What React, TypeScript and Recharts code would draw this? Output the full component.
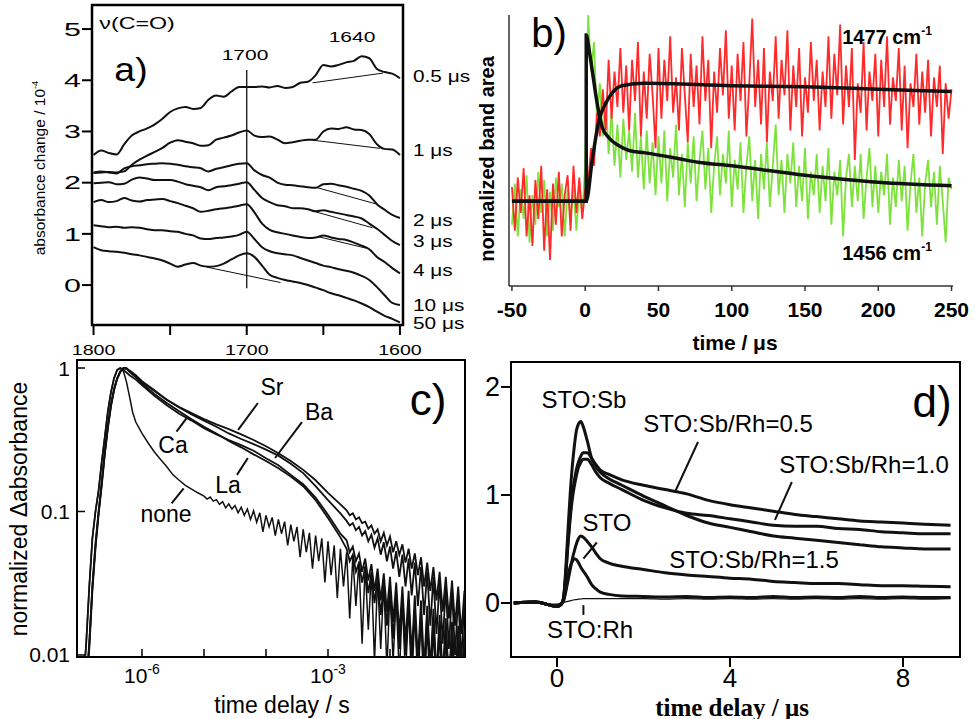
import React from 'react';
import { LineChart, Line, XAxis, YAxis, ReferenceLine, ReferenceArea } from 'recharts';

const FONT = '"Liberation Sans", Arial, Helvetica, sans-serif';
const SERIF = '"Liberation Serif", "Times New Roman", serif';
const INK = '#111';

// ---------- a) IR spectra, nu(C=O) region ----------
const wavenumbers = [
  1800, 1795, 1790, 1785, 1780, 1775, 1770, 1765, 1760, 1755, 1750, 1745, 1740, 1735,
  1730, 1725, 1720, 1715, 1710, 1705, 1700, 1695, 1690, 1685, 1680, 1675, 1670, 1665,
  1660, 1655, 1650, 1645, 1640, 1635, 1630, 1625, 1620, 1615, 1610, 1605, 1600,
];
const spec05us = [2.54, 2.63, 2.58, 2.55, 2.75, 2.92, 3.0, 3.06, 3.14, 3.25, 3.38, 3.45, 3.48, 3.44, 3.46, 3.62, 3.7, 3.68, 3.78, 3.87, 3.87, 3.87, 3.88, 3.86, 3.89, 3.85, 3.87, 3.95, 3.97, 4.1, 4.3, 4.27, 4.3, 4.35, 4.38, 4.47, 4.43, 4.22, 4.16, 4.13, 4.04];
const spec1us = [2.19, 2.2, 2.21, 2.2, 2.22, 2.35, 2.45, 2.53, 2.6, 2.68, 2.78, 2.83, 2.8, 2.77, 2.72, 2.73, 2.84, 2.88, 2.92, 2.98, 3.02, 2.92, 2.89, 2.9, 2.84, 2.77, 2.79, 2.82, 2.84, 2.84, 3.0, 3.06, 3.05, 3.08, 3.04, 3.03, 2.95, 2.75, 2.66, 2.65, 2.54];
const spec2us = [2.2, 2.22, 2.2, 2.18, 2.28, 2.32, 2.34, 2.36, 2.37, 2.38, 2.37, 2.35, 2.32, 2.3, 2.28, 2.22, 2.27, 2.3, 2.34, 2.37, 2.38, 2.24, 2.15, 2.1, 2.0, 1.96, 1.95, 1.93, 1.91, 1.9, 1.97, 1.98, 1.95, 1.92, 1.88, 1.84, 1.75, 1.58, 1.47, 1.37, 1.31];
const spec3us = [1.99, 2.0, 2.01, 1.97, 1.98, 2.06, 2.1, 2.08, 2.05, 2.05, 2.05, 2.02, 1.97, 1.94, 1.91, 1.85, 1.91, 1.93, 1.95, 1.98, 2.01, 1.86, 1.7, 1.62, 1.56, 1.54, 1.5, 1.5, 1.48, 1.44, 1.46, 1.43, 1.4, 1.37, 1.34, 1.3, 1.2, 1.1, 0.98, 0.86, 0.78];
const spec4us = [1.62, 1.66, 1.62, 1.64, 1.7, 1.65, 1.63, 1.66, 1.67, 1.68, 1.64, 1.6, 1.55, 1.5, 1.43, 1.45, 1.48, 1.5, 1.52, 1.55, 1.58, 1.42, 1.2, 1.08, 1.03, 1.0, 0.97, 0.94, 0.92, 0.93, 0.97, 0.93, 0.9, 0.88, 0.83, 0.77, 0.7, 0.55, 0.45, 0.33, 0.23];
const spec10us = [1.17, 1.15, 1.13, 1.14, 1.12, 1.13, 1.12, 1.09, 1.07, 1.07, 1.05, 1.04, 1.0, 0.97, 0.91, 0.9, 0.92, 0.93, 0.95, 0.98, 1.04, 0.9, 0.74, 0.66, 0.62, 0.6, 0.58, 0.53, 0.48, 0.43, 0.38, 0.35, 0.31, 0.28, 0.24, 0.18, 0.1, -0.04, -0.2, -0.35, -0.39];
const spec50us = [0.74, 0.68, 0.66, 0.65, 0.63, 0.6, 0.58, 0.55, 0.52, 0.48, 0.42, 0.36, 0.4, 0.43, 0.38, 0.36, 0.37, 0.42, 0.5, 0.58, 0.62, 0.55, 0.38, 0.2, 0.14, 0.1, 0.07, 0.04, 0.0, -0.05, -0.1, -0.16, -0.2, -0.25, -0.3, -0.36, -0.43, -0.52, -0.6, -0.66, -0.73];
const spectra = [spec05us, spec1us, spec2us, spec3us, spec4us, spec10us, spec50us];
// straight baselines under the bands: [wavenumber, value] end points
const bandBaselines = [
  [[1657, 3.95], [1611, 4.14]],
  [[1657, 2.83], [1613, 2.67]],
  [[1655, 1.91], [1615, 1.58]],
  [[1655, 1.43], [1618, 1.12]],
  [[1654, 0.95], [1622, 0.72]],
  [[1726, 0.35], [1678, 0.05]],
];
const delayLabels = ['0.5 μs', '1 μs', '2 μs', '3 μs', '4 μs', '10 μs', '50 μs'];
const delayLabelY = [77, 151, 221, 242, 271, 306, 324];

// ---------- b) band area kinetics ----------
const timeB = [
  -50, -48, -46, -44, -42, -40, -38, -36, -34, -32, -30, -28, -26, -24, -22, -20, -18, -16, -14, -12, -10, -8, -6, -4, -2,
  0, 2, 4, 6, 8, 10, 12, 14, 16, 18, 20, 22, 24, 26, 28, 30, 32, 34, 36, 38, 40, 42, 44, 46, 48,
  50, 52, 54, 56, 58, 60, 62, 64, 66, 68, 70, 72, 74, 76, 78, 80, 82, 84, 86, 88, 90, 92, 94, 96, 98,
  100, 102, 104, 106, 108, 110, 112, 114, 116, 118, 120, 122, 124, 126, 128, 130, 132, 134, 136, 138, 140, 142, 144, 146, 148,
  150, 152, 154, 156, 158, 160, 162, 164, 166, 168, 170, 172, 174, 176, 178, 180, 182, 184, 186, 188, 190, 192, 194, 196, 198,
  200, 202, 204, 206, 208, 210, 212, 214, 216, 218, 220, 222, 224, 226, 228, 230, 232, 234, 236, 238, 240, 242, 244, 246, 248,
  250,
];
const band1477 = [
  0.12, -0.25, 0.2, -0.1, 0.28, -0.3, 0.05, -0.38, 0.18, -0.15, 0.3, -0.42, 0.1, -0.5, 0.15, -0.2, 0.25, -0.3, 0.05, 0.22, -0.25, 0.3, -0.1, 0.2, -0.15,
  0.1, 0.15, 0.45, 0.3, 0.75, 0.55, 0.95, 0.6, 1.2, 0.7, 1.1, 0.8, 1.3, 0.75, 1.15, 0.6, 1.2, 0.85, 1.35, 0.55, 1.1, 0.7, 1.25, 0.9, 0.45, 1.3,
  0.7, 1.2, 0.85, 1.4, 0.75, 1.05, 0.6, 1.3, 0.9, 0.5, 1.25, 0.8, 1.15, 0.65, 1.4, 0.85, 1.2, 0.45, 1.1, 0.75,
  1.3, 0.9, 1.45, 0.7, 1.15, 0.6, 1.25, 0.85, 1.35, 0.55, 1.0, 1.55, 0.8, 1.2, 0.65, 1.3, 0.5, 1.1, 0.85, 1.4,
  0.7, 1.2, 0.9, 1.45, 0.6, 1.15, 0.8, 1.3, 0.55, 1.05, 0.75, 1.35, 0.85, 1.2, 0.6, 1.1, 0.8, 1.4, 0.7, 1.25,
  0.9, 1.5, 0.65, 1.15, 0.8, 1.3, 0.35, 1.0, 0.75, 1.35, 0.6, 1.1, 0.85, 1.25, 0.55, 1.2, 0.8, 1.4, 0.65, 1.05,
  0.85, 1.3, 0.6, 1.15, 0.45, 1.0, 0.8, 1.25, 0.65, 1.1, 0.75, 1.2, 0.55, 1.05, 0.8, 1.15, 0.4, 1.0, 0.7, 0.95,
];
const band1456 = [
  -0.2, 0.15, -0.3, 0.1, -0.15, 0.22, -0.35, 0.05, -0.2, 0.25, -0.1, 0.18, -0.3, 0.08, -0.25, 0.2, -0.05, 0.15, -0.3, 0.1, -0.15, 0.12, -0.25, 0.1, -0.1,
  0.3, 1.58, 1.1, 1.35, 0.7, 1.0, 0.55, 0.85, 0.4, 0.75, 0.3, 0.65, 0.2, 0.7, 0.35, 0.6, 0.25, 0.75, 0.2, 0.55, 0.1, 0.6, 0.15, 0.5, 0.05, 0.55,
  0.15, 0.6, 0.0, 0.45, 0.2, 0.65, 0.05, 0.4, -0.05, 0.5, 0.15, 0.55, 0.0, 0.35, 0.6, 0.1, 0.45, -0.1, 0.3, 0.55,
  0.05, 0.4, 0.15, 0.6, -0.05, 0.35, 0.1, 0.5, -0.1, 0.3, 0.55, 0.0, 0.35, -0.15, 0.4, 0.1, 0.5, -0.05, 0.3, 0.65,
  0.05, 0.35, -0.1, 0.4, 0.15, 0.5, -0.05, 0.3, 0.0, 0.45, -0.15, 0.25, 0.05, 0.4, -0.1, 0.3, 0.0, 0.45, -0.2, 0.25,
  0.05, 0.35, -0.3, 0.2, 0.4, -0.05, 0.3, 0.0, 0.4, -0.15, 0.2, 0.45, -0.05, 0.3, -0.1, 0.25, 0.05, 0.4, -0.2, 0.2,
  -0.05, 0.35, 0.0, 0.3, -0.25, 0.15, 0.4, -0.1, 0.2, -0.3, 0.15, 0.35, -0.05, 0.25, -0.2, 0.3, 0.0, -0.35, 0.2, 0.1,
];
const fit1477T = [-50, 0.7, 4.8, 9.5, 14, 18.5, 25, 41, 100, 150, 200, 250];
const fit1477 = [0, 0, 0.35, 0.69, 0.83, 0.92, 0.98, 1.0, 0.98, 0.97, 0.95, 0.93];
const fit1456T = [-50, 0.7, 0.71, 2.7, 4.8, 7.5, 11.6, 16, 23, 30, 41, 64, 77, 100, 150, 200, 250];
const fit1456 = [0, 0, 1.41, 1.28, 1.11, 0.88, 0.63, 0.54, 0.47, 0.43, 0.41, 0.36, 0.33, 0.3, 0.22, 0.16, 0.13];

// ---------- c) normalized decays, log-log (time as log10 s) ----------
const logTimeC = [
  -6.95, -6.9, -6.85, -6.8, -6.75, -6.7, -6.65, -6.6, -6.55, -6.5, -6.45, -6.4, -6.35, -6.3, -6.25, -6.2,
  -6.1, -6.0, -5.8, -5.6, -5.4, -5.2, -5.0, -4.8, -4.6, -4.4, -4.2, -4.0, -3.8, -3.6, -3.4, -3.2, -3.0, -2.8,
  -2.7, -2.65, -2.6, -2.55, -2.5, -2.45, -2.4, -2.35, -2.3, -2.25, -2.2, -2.15, -2.1, -2.05, -2.0, -1.95, -1.9, -1.85, -1.8, -1.75,
  -1.7, -1.65, -1.6, -1.55, -1.5, -1.45, -1.4, -1.35, -1.3, -1.25, -1.2, -1.15, -1.1, -1.05, -1.0, -0.95, -0.9, -0.85, -0.8,
];
const decaySr = [
  0.004, 0.006, 0.012, 0.03, 0.06, 0.1, 0.16, 0.26, 0.4, 0.56, 0.72, 0.85, 0.95, 1.0, 0.99, 0.95,
  0.88, 0.8, 0.69, 0.6, 0.535, 0.485, 0.44, 0.405, 0.375, 0.345, 0.315, 0.285, 0.255, 0.225, 0.195, 0.165, 0.135, 0.112,
  0.102, 0.094, 0.097, 0.088, 0.091, 0.083, 0.085, 0.076, 0.08, 0.07, 0.075, 0.062, 0.071, 0.058, 0.067, 0.052, 0.062, 0.05, 0.059, 0.044,
  0.055, 0.04, 0.051, 0.036, 0.048, 0.03, 0.044, 0.028, 0.041, 0.024, 0.038, 0.02, 0.035, 0.018, 0.033, 0.016, 0.03, 0.014, 0.028,
];
const decayBa = [
  0.004, 0.006, 0.011, 0.028, 0.055, 0.095, 0.15, 0.25, 0.38, 0.54, 0.7, 0.84, 0.94, 1.0, 0.99, 0.96,
  0.89, 0.81, 0.7, 0.6, 0.53, 0.475, 0.43, 0.39, 0.35, 0.32, 0.295, 0.27, 0.245, 0.215, 0.185, 0.15, 0.12, 0.097,
  0.086, 0.08, 0.083, 0.074, 0.078, 0.068, 0.073, 0.062, 0.069, 0.056, 0.065, 0.05, 0.061, 0.045, 0.057, 0.04, 0.053, 0.035, 0.05, 0.03,
  0.047, 0.026, 0.044, 0.022, 0.041, 0.019, 0.038, 0.016, 0.035, 0.014, 0.033, 0.012, 0.03, 0.011, 0.028, 0.01, 0.026, 0.009, 0.025,
];
const decayLa = [
  0.004, 0.006, 0.012, 0.03, 0.058, 0.098, 0.155, 0.255, 0.39, 0.55, 0.71, 0.84, 0.94, 0.99, 1.0, 0.94,
  0.86, 0.78, 0.66, 0.57, 0.5, 0.44, 0.39, 0.35, 0.31, 0.28, 0.25, 0.225, 0.2, 0.175, 0.15, 0.12, 0.09, 0.066,
  0.055, 0.045, 0.05, 0.038, 0.044, 0.032, 0.041, 0.027, 0.037, 0.023, 0.034, 0.019, 0.031, 0.016, 0.029, 0.013, 0.027, 0.011, 0.025, 0.01,
  0.023, 0.009, 0.021, 0.008, 0.02, 0.007, 0.019, 0.007, 0.018, 0.006, 0.017, 0.006, 0.016, 0.006, 0.015, 0.005, 0.014, 0.005, 0.013,
];
const decayCa = [
  0.006, 0.012, 0.03, 0.065, 0.1, 0.14, 0.22, 0.33, 0.5, 0.68, 0.85, 0.97, 1.0, 0.97, 0.93, 0.89,
  0.83, 0.76, 0.64, 0.55, 0.48, 0.43, 0.38, 0.345, 0.315, 0.29, 0.265, 0.235, 0.21, 0.18, 0.155, 0.125, 0.095, 0.07,
  0.063, 0.052, 0.057, 0.045, 0.051, 0.038, 0.047, 0.033, 0.043, 0.028, 0.04, 0.024, 0.037, 0.02, 0.035, 0.017, 0.032, 0.014, 0.03, 0.012,
  0.028, 0.01, 0.026, 0.009, 0.024, 0.008, 0.022, 0.008, 0.021, 0.007, 0.019, 0.007, 0.018, 0.006, 0.017, 0.006, 0.016, 0.006, 0.015,
];
const logTimeNone = [
  -6.95, -6.9, -6.85, -6.8, -6.75, -6.7, -6.65, -6.6, -6.55, -6.5, -6.45, -6.4, -6.35, -6.3, -6.25, -6.2, -6.15, -6.1,
  -6.0, -5.9, -5.8, -5.7, -5.6, -5.5, -5.4, -5.3, -5.2, -5.1,
  -5.0, -4.95, -4.9, -4.85, -4.8, -4.75, -4.7, -4.65, -4.6, -4.55, -4.5, -4.45, -4.4, -4.35, -4.3, -4.25, -4.2, -4.15, -4.1, -4.05,
  -4.0, -3.95, -3.9, -3.85, -3.8, -3.75, -3.7, -3.65, -3.6, -3.55, -3.5, -3.45, -3.4, -3.35, -3.3, -3.25, -3.2, -3.15, -3.1, -3.05,
  -3.0, -2.95, -2.9, -2.85, -2.8, -2.75, -2.7, -2.65, -2.6, -2.55, -2.5, -2.45, -2.4, -2.35, -2.3, -2.25, -2.2, -2.15, -2.1, -2.05,
  -2.0, -1.95, -1.9, -1.85, -1.8, -1.75, -1.7, -1.65, -1.6, -1.55, -1.5, -1.45, -1.4, -1.35, -1.3, -1.25, -1.2, -1.15, -1.1, -1.05,
  -1.0, -0.95, -0.9, -0.85, -0.8,
];
const decayNone = [
  0.006, 0.012, 0.03, 0.065, 0.1, 0.14, 0.22, 0.33, 0.5, 0.68, 0.85, 0.97, 1.0, 0.95, 0.8, 0.63, 0.49, 0.42,
  0.35, 0.3, 0.26, 0.23, 0.205, 0.18, 0.165, 0.152, 0.143, 0.135,
  0.128, 0.122, 0.126, 0.118, 0.121, 0.112, 0.117, 0.106, 0.113, 0.104, 0.11, 0.098, 0.107, 0.094, 0.104, 0.088, 0.101, 0.084, 0.098, 0.072,
  0.094, 0.078, 0.091, 0.068, 0.088, 0.07, 0.085, 0.058, 0.081, 0.062, 0.078, 0.048, 0.075, 0.052, 0.071, 0.04, 0.068, 0.045, 0.065, 0.032,
  0.062, 0.036, 0.058, 0.025, 0.055, 0.03, 0.052, 0.018, 0.048, 0.022, 0.045, 0.012, 0.042, 0.015, 0.038, 0.009, 0.035, 0.011, 0.032, 0.008,
  0.029, 0.009, 0.026, 0.007, 0.024, 0.007, 0.022, 0.006, 0.02, 0.006, 0.018, 0.005, 0.016, 0.005, 0.015, 0.005, 0.014, 0.005, 0.013, 0.005,
  0.012, 0.005, 0.011, 0.005, 0.01,
];

// ---------- d) transient absorption, time delay in μs ----------
const timeD = [-1.0, -0.5, 0, 0.1, 0.15, 0.2, 0.25, 0.3, 0.35, 0.4, 0.45, 0.5, 0.55, 0.6, 0.7, 0.8, 0.9, 1.0, 1.2, 1.5, 2, 2.5, 3, 3.5, 4, 4.5, 5, 5.5, 6, 6.5, 7, 7.5, 8, 8.5, 9.1];
const stoSb = [0, 0.01, -0.03, -0.01, 0.05, 0.3, 0.65, 0.98, 1.25, 1.45, 1.6, 1.66, 1.68, 1.64, 1.5, 1.34, 1.26, 1.21, 1.15, 1.09, 0.99, 0.9, 0.81, 0.74, 0.7, 0.66, 0.62, 0.6, 0.58, 0.56, 0.54, 0.52, 0.51, 0.5, 0.5];
const stoSbRh05 = [0, 0.01, -0.03, -0.01, 0.04, 0.25, 0.55, 0.8, 1.0, 1.13, 1.24, 1.31, 1.36, 1.39, 1.39, 1.34, 1.28, 1.23, 1.19, 1.14, 1.09, 1.05, 1.01, 0.95, 0.91, 0.88, 0.85, 0.82, 0.8, 0.78, 0.76, 0.75, 0.74, 0.73, 0.72];
const stoSbRh10 = [0, 0.01, -0.03, -0.01, 0.04, 0.24, 0.52, 0.76, 0.95, 1.08, 1.18, 1.26, 1.3, 1.33, 1.33, 1.28, 1.21, 1.16, 1.11, 1.05, 0.95, 0.88, 0.83, 0.81, 0.78, 0.75, 0.72, 0.71, 0.71, 0.69, 0.68, 0.66, 0.65, 0.64, 0.64];
const sto = [0, 0.01, -0.03, -0.01, 0.02, 0.1, 0.2, 0.3, 0.4, 0.48, 0.55, 0.6, 0.62, 0.61, 0.57, 0.52, 0.46, 0.41, 0.37, 0.34, 0.31, 0.28, 0.26, 0.245, 0.23, 0.22, 0.2, 0.19, 0.18, 0.18, 0.17, 0.16, 0.16, 0.155, 0.15];
const stoSbRh15 = [0, 0.01, -0.03, -0.01, 0.02, 0.12, 0.24, 0.33, 0.38, 0.41, 0.4, 0.37, 0.33, 0.3, 0.24, 0.17, 0.13, 0.1, 0.08, 0.065, 0.06, 0.055, 0.06, 0.05, 0.055, 0.05, 0.06, 0.05, 0.055, 0.05, 0.06, 0.05, 0.055, 0.05, 0.05];
const stoRh = [0, 0, -0.01, 0, 0.005, 0.01, 0.015, 0.02, 0.025, 0.03, 0.032, 0.035, 0.037, 0.04, 0.04, 0.04, 0.04, 0.04, 0.04, 0.04, 0.04, 0.035, 0.04, 0.035, 0.04, 0.035, 0.04, 0.035, 0.04, 0.035, 0.04, 0.035, 0.04, 0.035, 0.04];

const pts = (xs: number[], ys: number[]) => xs.map((x, i) => ({ x, y: ys[i] }));
const logPts = (lx: number[], ys: number[]) => lx.map((l, i) => ({ x: Math.pow(10, l), y: ys[i] }));

function Txt({ x, y, size, bold, sx, rot, anchor, serif, children }: any) {
  const a = anchor || 'middle';
  const tx = a === 'middle' ? '-50%' : a === 'end' ? '-100%' : '0%';
  const origin = a === 'middle' ? 'center' : a === 'end' ? 'right center' : 'left center';
  let tf = `translate(${tx}, -50%)`;
  if (rot) tf += ` rotate(${rot}deg)`;
  if (sx) tf += ` scaleX(${sx})`;
  return (
    <div
      style={{
        position: 'absolute', left: x, top: y, fontSize: size, fontWeight: bold ? 700 : 400,
        fontFamily: serif ? SERIF : FONT, lineHeight: 1, whiteSpace: 'nowrap', color: '#000',
        transform: tf, transformOrigin: origin,
      }}
    >
      {children}
    </div>
  );
}

const Sup = ({ children }: any) => (
  <span style={{ fontSize: '0.6em', position: 'relative', top: '-0.75em' }}>{children}</span>
);

// custom ticks (axis tickSize = 0, so x/y is the axis line)
const tickAX = (p: any) => {
  const { x, y, payload } = p;
  return (
    <g>
      <line x1={x} y1={y} x2={x} y2={y + 10} stroke="#000" strokeWidth={2} />
      {payload.value % 100 === 0 && (
        <text transform={`translate(${x},${y + 25}) scale(1.4,1)`} textAnchor="middle" dominantBaseline="central" fontSize={14} fontFamily={FONT} fill="#000">
          {payload.value}
        </text>
      )}
    </g>
  );
};
const tickAY = (p: any) => {
  const { x, y, payload } = p;
  return (
    <g>
      <line x1={x} y1={y} x2={x - 10} y2={y} stroke="#000" strokeWidth={2} />
      <text transform={`translate(${x - 11},${y}) scale(1.6,1)`} textAnchor="end" dominantBaseline="central" fontSize={19} fontFamily={FONT} fill="#000">
        {payload.value}
      </text>
    </g>
  );
};
const tickBX = (p: any) => {
  const { x, y, payload } = p;
  return (
    <g>
      <line x1={x} y1={y} x2={x} y2={y + 5} stroke="#333" strokeWidth={1.5} />
      <text x={x} y={y + 23} textAnchor="middle" dominantBaseline="central" fontSize={21} fontWeight={700} fontFamily={FONT} fill="#000">
        {payload.value}
      </text>
    </g>
  );
};
const tickCX = (p: any) => {
  const { x, y, payload } = p;
  const e = Math.round(Math.log10(payload.value));
  return (
    <g>
      <line x1={x} y1={y} x2={x} y2={y - 8} stroke="#000" strokeWidth={1.5} />
      {(e === -6 || e === -3) && (
        <text x={x} y={y + 26} textAnchor="middle" fontSize={21} fontFamily={FONT} fill="#000">
          10<tspan dy={-9} fontSize={14}>{String(e)}</tspan>
        </text>
      )}
    </g>
  );
};
const tickCY = (p: any) => {
  const { x, y, payload } = p;
  return (
    <g>
      <line x1={x} y1={y} x2={x + 8} y2={y} stroke="#000" strokeWidth={1.5} />
      <text x={x - 7} y={y} textAnchor="end" dominantBaseline="central" fontSize={21} fontFamily={FONT} fill="#000">
        {String(payload.value)}
      </text>
    </g>
  );
};
const tickDX = (p: any) => {
  const { x, y, payload } = p;
  return (
    <g>
      <line x1={x} y1={y} x2={x} y2={y + 10} stroke="#000" strokeWidth={2} />
      <text x={x} y={y + 21} textAnchor="middle" dominantBaseline="central" fontSize={26} fontFamily={FONT} fill="#000">
        {payload.value}
      </text>
    </g>
  );
};
const tickDY = (p: any) => {
  const { x, y, payload } = p;
  return (
    <g>
      <line x1={x} y1={y} x2={x - 10} y2={y} stroke="#000" strokeWidth={2} />
      <text x={x - 11} y={y} textAnchor="end" dominantBaseline="central" fontSize={27} fontFamily={FONT} fill="#000">
        {payload.value}
      </text>
    </g>
  );
};

const noAxisLine = { tickSize: 0, tickMargin: 0, tickLine: false, axisLine: false, interval: 0 as const };

const A_X = [1598, 1801];
const A_Y = [-0.78, 5.47];
const B_X = [-52, 251];
const B_Y = [-0.72, 1.58];
const C_X = [8.95e-8, 0.162];
const C_Y = [0.00968, 1.137];
const D_X = [-1.064, 9.318];
const D_Y = [-0.5, 2.231];

function PanelA() {
  return (
    <LineChart width={480} height={370} margin={{ top: 5, right: 77, bottom: 15, left: 52 }}>
      <XAxis type="number" dataKey="x" domain={A_X} reversed allowDataOverflow height={30}
        ticks={[1800, 1750, 1700, 1650, 1600]} tick={tickAX} {...noAxisLine} />
      <YAxis type="number" dataKey="y" domain={A_Y} allowDataOverflow width={40}
        ticks={[0, 1, 2, 3, 4, 5]} tick={tickAY} {...noAxisLine} />
      <ReferenceArea x1={A_X[0]} x2={A_X[1]} y1={A_Y[0]} y2={A_Y[1]} fill="none" stroke="#000" strokeWidth={2.5} ifOverflow="visible" />
      <ReferenceLine segment={[{ x: 1700, y: 4.2 }, { x: 1700, y: -0.06 }]} stroke={INK} strokeWidth={1.3} ifOverflow="visible" />
      {bandBaselines.map((seg, i) => (
        <Line key={'bl' + i} data={seg.map(([x, y]) => ({ x, y }))} dataKey="y" stroke={INK} strokeWidth={1}
          dot={false} isAnimationActive={false} />
      ))}
      {spectra.map((s, i) => (
        <Line key={'sp' + i} data={pts(wavenumbers, s)} dataKey="y" type="monotone" stroke={INK} strokeWidth={2}
          dot={false} isAnimationActive={false} />
      ))}
    </LineChart>
  );
}

function PanelB() {
  return (
    <LineChart width={495} height={370} margin={{ top: 15, right: 22, bottom: 54, left: 9 }}>
      <XAxis type="number" dataKey="x" domain={B_X} allowDataOverflow height={30}
        ticks={[-50, 0, 50, 100, 150, 200, 250]} tick={tickBX} tickSize={0} tickMargin={0} tickLine={false}
        interval={0} axisLine={{ stroke: '#333', strokeWidth: 1.5 }} />
      <YAxis type="number" dataKey="y" domain={B_Y} allowDataOverflow width={20} tick={false} tickLine={false}
        axisLine={{ stroke: '#333', strokeWidth: 1.5 }} />
      <Line data={pts(timeB, band1456)} dataKey="y" stroke="#7ee23c" strokeWidth={1.8} dot={false} isAnimationActive={false} />
      <Line data={pts(timeB, band1477)} dataKey="y" stroke="#ff2a2a" strokeWidth={1.8} dot={false} isAnimationActive={false} />
      <Line data={pts(fit1477T, fit1477)} dataKey="y" type="monotone" stroke={INK} strokeWidth={3.5} dot={false} isAnimationActive={false} />
      <Line data={pts(fit1456T, fit1456)} dataKey="y" type="monotone" stroke={INK} strokeWidth={3.5} dot={false} isAnimationActive={false} />
    </LineChart>
  );
}

function PanelC() {
  const decays = [decaySr, decayBa, decayLa, decayCa];
  return (
    <LineChart width={480} height={364} margin={{ top: 5, right: 15, bottom: 32, left: 37 }}>
      <XAxis type="number" scale="log" dataKey="x" domain={C_X} allowDataOverflow height={30}
        ticks={[1e-6, 1e-5, 1e-4, 1e-3, 1e-2]} tick={tickCX} {...noAxisLine} />
      <YAxis type="number" scale="log" dataKey="y" domain={C_Y} allowDataOverflow width={40}
        ticks={[0.01, 0.1, 1]} tick={tickCY} {...noAxisLine} />
      <ReferenceArea x1={C_X[0]} x2={C_X[1]} y1={C_Y[0]} y2={C_Y[1]} fill="none" stroke="#000" strokeWidth={2} ifOverflow="visible" />
      <Line data={logPts(logTimeNone, decayNone)} dataKey="y" stroke={INK} strokeWidth={1.5} dot={false} isAnimationActive={false} />
      {decays.map((d, i) => (
        <Line key={'dc' + i} data={logPts(logTimeC, d)} dataKey="y" stroke={INK} strokeWidth={1.8} dot={false} isAnimationActive={false} />
      ))}
      <ReferenceLine segment={[{ x: 7.4e-5, y: 0.57 }, { x: 3.55e-5, y: 0.37 }]} stroke={INK} strokeWidth={2} ifOverflow="visible" />
      <ReferenceLine segment={[{ x: 3.8e-4, y: 0.42 }, { x: 1.4e-4, y: 0.236 }]} stroke={INK} strokeWidth={2} ifOverflow="visible" />
      <ReferenceLine segment={[{ x: 3.6e-6, y: 0.36 }, { x: 5.25e-6, y: 0.447 }]} stroke={INK} strokeWidth={2} ifOverflow="visible" />
      <ReferenceLine segment={[{ x: 3.4e-5, y: 0.18 }, { x: 5.1e-5, y: 0.236 }]} stroke={INK} strokeWidth={2} ifOverflow="visible" />
      <ReferenceLine segment={[{ x: 3.0e-6, y: 0.114 }, { x: 4.7e-6, y: 0.145 }]} stroke={INK} strokeWidth={2} ifOverflow="visible" />
    </LineChart>
  );
}

function PanelD() {
  const thick = [stoSbRh05, stoSbRh10, stoSb, sto, stoSbRh15];
  return (
    <LineChart width={495} height={364} margin={{ top: 7, right: 15, bottom: 32, left: 11 }}>
      <XAxis type="number" dataKey="x" domain={D_X} allowDataOverflow height={30}
        ticks={[0, 4, 8]} tick={tickDX} {...noAxisLine} />
      <YAxis type="number" dataKey="y" domain={D_Y} allowDataOverflow width={20}
        ticks={[0, 1, 2]} tick={tickDY} {...noAxisLine} />
      <ReferenceArea x1={D_X[0]} x2={D_X[1]} y1={D_Y[0]} y2={D_Y[1]} fill="none" stroke="#000" strokeWidth={2} ifOverflow="visible" />
      <Line data={pts(timeD, stoRh)} dataKey="y" type="monotone" stroke={INK} strokeWidth={1.2} dot={false} isAnimationActive={false} />
      {thick.map((d, i) => (
        <Line key={'d' + i} data={pts(timeD, d)} dataKey="y" type="monotone" stroke={INK} strokeWidth={3}
          dot={false} isAnimationActive={false} />
      ))}
      <ReferenceLine segment={[{ x: 3.26, y: 1.49 }, { x: 2.73, y: 1.03 }]} stroke={INK} strokeWidth={2} ifOverflow="visible" />
      <ReferenceLine segment={[{ x: 5.43, y: 1.12 }, { x: 5.04, y: 0.77 }]} stroke={INK} strokeWidth={2} ifOverflow="visible" />
      <ReferenceLine segment={[{ x: 0.61, y: 0.41 }, { x: 0.92, y: 0.56 }]} stroke={INK} strokeWidth={2} ifOverflow="visible" />
      <ReferenceLine segment={[{ x: 0.61, y: -0.02 }, { x: 0.61, y: -0.11 }]} stroke={INK} strokeWidth={2} ifOverflow="visible" />
    </LineChart>
  );
}

export default function App() {
  return (
    <div style={{ position: 'absolute', left: 0, top: 0, width: 975, height: 719, background: '#fff', overflow: 'hidden', fontFamily: FONT }}>
      <div style={{ position: 'absolute', left: 0, top: 0 }}><PanelA /></div>
      <div style={{ position: 'absolute', left: 480, top: 0 }}><PanelB /></div>
      <div style={{ position: 'absolute', left: 0, top: 355 }}><PanelC /></div>
      <div style={{ position: 'absolute', left: 480, top: 355 }}><PanelD /></div>

      {/* a) annotations */}
      <Txt x={40} y={168} size={15.5} rot={-90}>absorbance change / 10<Sup>-4</Sup></Txt>
      <Txt x={137} y={24} size={16} sx={1.45}>ν(C=O)</Txt>
      <Txt x={131} y={69} size={34} sx={1.1}>a)</Txt>
      <Txt x={245} y={54} size={15} sx={1.4}>1700</Txt>
      <Txt x={352} y={36} size={15} sx={1.4}>1640</Txt>
      {delayLabels.map((l, i) => (
        <Txt key={l} x={413} y={delayLabelY[i]} size={16} sx={1.3} anchor="start">{l}</Txt>
      ))}

      {/* b) annotations */}
      <Txt x={549} y={33} size={40}>b)</Txt>
      <Txt x={487} y={159} size={20} bold rot={-90}>normalized band area</Txt>
      <Txt x={887} y={37} size={20} bold>1477 cm<Sup>-1</Sup></Txt>
      <Txt x={887} y={253} size={20} bold>1456 cm<Sup>-1</Sup></Txt>
      <Txt x={735} y={342} size={21} bold>time / μs</Txt>

      {/* c) annotations */}
      <Txt x={19} y={509} size={23} rot={-90}>normalized Δabsorbance</Txt>
      <Txt x={272} y={387} size={23}>Sr</Txt>
      <Txt x={319} y={412} size={23}>Ba</Txt>
      <Txt x={173} y={445} size={23}>Ca</Txt>
      <Txt x={228} y={485} size={23}>La</Txt>
      <Txt x={166} y={514} size={23}>none</Txt>
      <Txt x={428} y={400} size={44}>c)</Txt>
      <Txt x={282} y={705} size={23}>time delay / s</Txt>

      {/* d) annotations */}
      <Txt x={584} y={400} size={24}>STO:Sb</Txt>
      <Txt x={728} y={424} size={24}>STO:Sb/Rh=0.5</Txt>
      <Txt x={864} y={465} size={24}>STO:Sb/Rh=1.0</Txt>
      <Txt x={607} y={523} size={24}>STO</Txt>
      <Txt x={754} y={560} size={24}>STO:Sb/Rh=1.5</Txt>
      <Txt x={590} y={630} size={24}>STO:Rh</Txt>
      <Txt x={932} y={402} size={44}>d)</Txt>
      <Txt x={732} y={707} size={25} bold serif>time delay / μs</Txt>
    </div>
  );
}
